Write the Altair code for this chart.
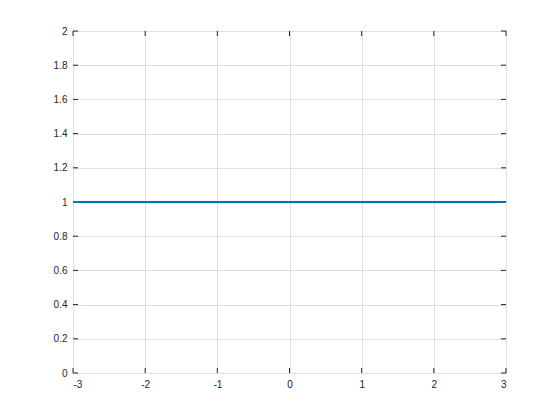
import altair as alt
import pandas as pd

x_vals = [-3, -2, -1, 0, 1, 2, 3]
y_vals = [1, 1, 1, 1, 1, 1, 1]
x_ticks = [-3, -2, -1, 0, 1, 2, 3]
y_ticks = [0, 0.2, 0.4, 0.6, 0.8, 1, 1.2, 1.4, 1.6, 1.8, 2]

W, H = 433, 342
df = pd.DataFrame({"x": x_vals, "y": y_vals})
xt = pd.DataFrame({"t": x_ticks})
yt = pd.DataFrame({"t": y_ticks})

xs = alt.Scale(domain=[-3, 3], nice=False, zero=False)
ys = alt.Scale(domain=[0, 2], nice=False, zero=False)

axis_common = dict(
    grid=True, gridColor="#dfdfdf", gridWidth=1,
    domain=False, ticks=False,
    labelFont="Liberation Sans", labelFontSize=10, labelColor="#262626",
    labelOverlap=False, labelExpr="datum.value + ''",
    title=None,
)

line = alt.Chart(df).mark_line(color="#0072BD", strokeWidth=2).encode(
    x=alt.X("x:Q", scale=xs, axis=alt.Axis(values=x_ticks, tickCount=len(x_ticks), labelPadding=6, **axis_common)),
    y=alt.Y("y:Q", scale=ys, axis=alt.Axis(values=y_ticks, tickCount=len(y_ticks), labelPadding=6, **axis_common)),
)

tick_color = "#262626"
xb = alt.Chart(xt).mark_rule(color=tick_color, strokeWidth=1).encode(
    x=alt.X("t:Q", scale=xs), y=alt.value(H), y2=alt.value(H - 5))
xtop = alt.Chart(xt).mark_rule(color=tick_color, strokeWidth=1).encode(
    x=alt.X("t:Q", scale=xs), y=alt.value(0), y2=alt.value(5))
yl = alt.Chart(yt).mark_rule(color=tick_color, strokeWidth=1).encode(
    y=alt.Y("t:Q", scale=ys), x=alt.value(0), x2=alt.value(5))
yr = alt.Chart(yt).mark_rule(color=tick_color, strokeWidth=1).encode(
    y=alt.Y("t:Q", scale=ys), x=alt.value(W), x2=alt.value(W - 5))

chart = alt.layer(xb, xtop, yl, yr, line).properties(
    width=W, height=H,
    autosize=alt.AutoSizeParams(type="none"),
    padding={"left": 65, "top": 23, "right": 46, "bottom": 47},
).configure_view(stroke="#262626", strokeWidth=1).configure(background="white")

chart.save("out.html", embed_options={"renderer": "svg", "actions": False})
